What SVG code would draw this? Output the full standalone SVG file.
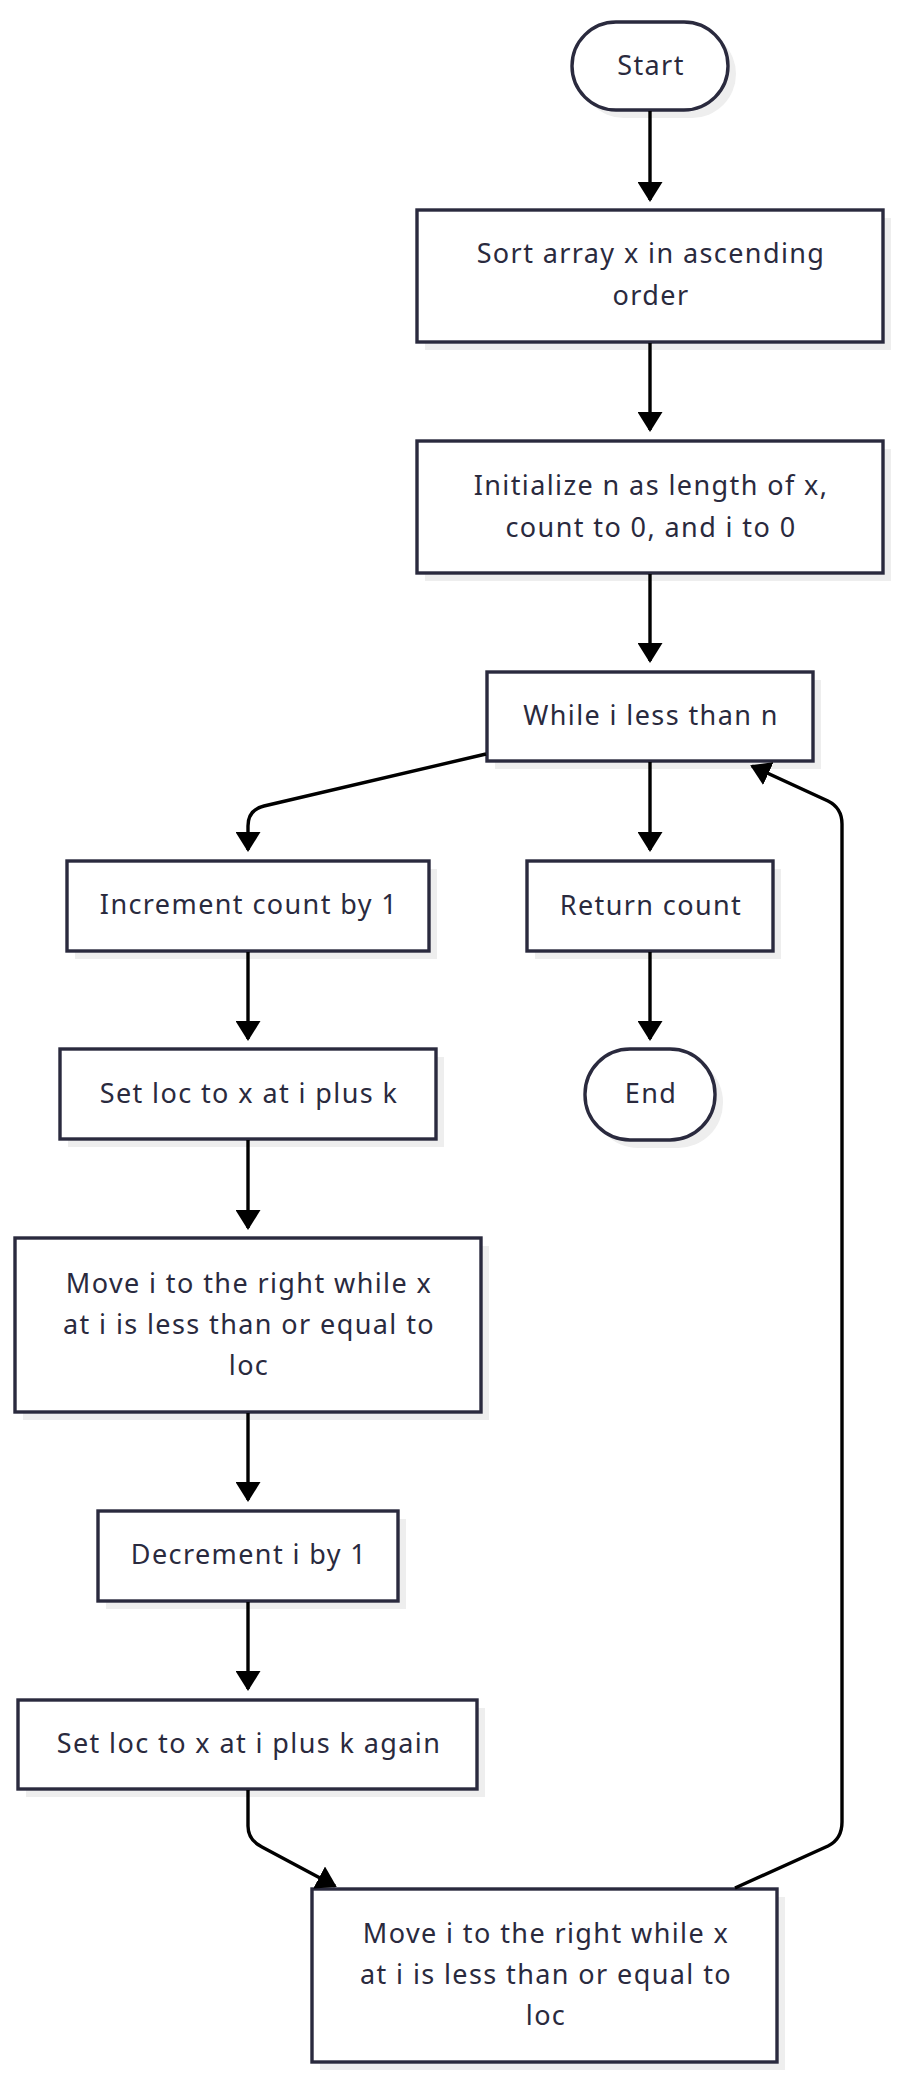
<svg xmlns="http://www.w3.org/2000/svg" width="898" height="2084" viewBox="0 0 898 2084">
<style>
.bg{fill:#ffffff}
.sh{fill:#eeeeee}
.nd{fill:#ffffff;stroke:#2a2a3e;stroke-width:3.4}
.tx{font-family:"Noto Sans","Open Sans",sans-serif;font-size:27px;fill:#2a2a3e;text-anchor:middle;letter-spacing:1.4px}
.ed{fill:none;stroke:#000000;stroke-width:3.4}
</style>
<defs>
<marker id="ah" viewBox="0 0 20 25" refX="18" refY="12.5" markerWidth="20" markerHeight="25" markerUnits="userSpaceOnUse" orient="auto">
<path d="M0,0 L20,12.5 L0,25 z" fill="#000000"/>
</marker>
</defs>
<rect class="bg" x="0" y="0" width="898" height="2084"/>

<g id="start">
<rect class="sh" x="580" y="30" width="156" height="88" rx="44"/>
<rect class="nd" x="572" y="22" width="156" height="88" rx="44"/>
<text class="tx" x="651" y="75">Start</text>
</g>
<g id="sort">
<rect class="sh" x="425" y="218" width="466" height="132"/>
<rect class="nd" x="417" y="210" width="466" height="132"/>
<text class="tx" x="651" y="263">Sort array x in ascending</text>
<text class="tx" x="651" y="305">order</text>
</g>
<g id="init">
<rect class="sh" x="425" y="449" width="466" height="132"/>
<rect class="nd" x="417" y="441" width="466" height="132"/>
<text class="tx" x="651" y="495">Initialize n as length of x,</text>
<text class="tx" x="651" y="537">count to 0, and i to 0</text>
</g>
<g id="while">
<rect class="sh" x="495" y="680" width="326" height="89"/>
<rect class="nd" x="487" y="672" width="326" height="89"/>
<text class="tx" x="651" y="725">While i less than n</text>
</g>
<g id="increment">
<rect class="sh" x="75" y="869" width="362" height="90"/>
<rect class="nd" x="67" y="861" width="362" height="90"/>
<text class="tx" x="249" y="914">Increment count by 1</text>
</g>
<g id="return">
<rect class="sh" x="535" y="869" width="246" height="90"/>
<rect class="nd" x="527" y="861" width="246" height="90"/>
<text class="tx" x="651" y="915">Return count</text>
</g>
<g id="setloc">
<rect class="sh" x="68" y="1057" width="376" height="90"/>
<rect class="nd" x="60" y="1049" width="376" height="90"/>
<text class="tx" x="249" y="1103">Set loc to x at i plus k</text>
</g>
<g id="end">
<rect class="sh" x="593" y="1057" width="130" height="91" rx="45"/>
<rect class="nd" x="585" y="1049" width="130" height="91" rx="45"/>
<text class="tx" x="651" y="1103">End</text>
</g>
<g id="move1">
<rect class="sh" x="23" y="1246" width="466" height="174"/>
<rect class="nd" x="15" y="1238" width="466" height="174"/>
<text class="tx" x="249" y="1293">Move i to the right while x</text>
<text class="tx" x="249" y="1334">at i is less than or equal to</text>
<text class="tx" x="249" y="1375">loc</text>
</g>
<g id="decrement">
<rect class="sh" x="106" y="1519" width="300" height="90"/>
<rect class="nd" x="98" y="1511" width="300" height="90"/>
<text class="tx" x="249" y="1564">Decrement i by 1</text>
</g>
<g id="setlocagain">
<rect class="sh" x="26" y="1708" width="459" height="89"/>
<rect class="nd" x="18" y="1700" width="459" height="89"/>
<text class="tx" x="249" y="1753">Set loc to x at i plus k again</text>
</g>
<g id="move2">
<rect class="sh" x="320" y="1897" width="465" height="173"/>
<rect class="nd" x="312" y="1889" width="465" height="173"/>
<text class="tx" x="546" y="1943">Move i to the right while x</text>
<text class="tx" x="546" y="1984">at i is less than or equal to</text>
<text class="tx" x="546" y="2025">loc</text>
</g>

<g id="connectors">
<path class="ed" marker-end="url(#ah)" d="M650,111 L650,200"/>
<path class="ed" marker-end="url(#ah)" d="M650,343 L650,430"/>
<path class="ed" marker-end="url(#ah)" d="M650,574 L650,661"/>
<path class="ed" marker-end="url(#ah)" d="M486,754 L264,806 Q248,810 248,826 L248,850"/>
<path class="ed" marker-end="url(#ah)" d="M650,762 L650,850"/>
<path class="ed" marker-end="url(#ah)" d="M650,952 L650,1039"/>
<path class="ed" marker-end="url(#ah)" d="M248,952 L248,1039"/>
<path class="ed" marker-end="url(#ah)" d="M248,1140 L248,1228"/>
<path class="ed" marker-end="url(#ah)" d="M248,1413 L248,1500"/>
<path class="ed" marker-end="url(#ah)" d="M248,1602 L248,1689"/>
<path class="ed" marker-end="url(#ah)" d="M248,1790 L248,1826 Q248,1840 262,1847 L335,1886"/>
<path class="ed" marker-end="url(#ah)" d="M735,1888 L828,1846 Q842,1839 842,1822 L842,824 Q842,808 828,801 L752,766"/>
</g>
</svg>
